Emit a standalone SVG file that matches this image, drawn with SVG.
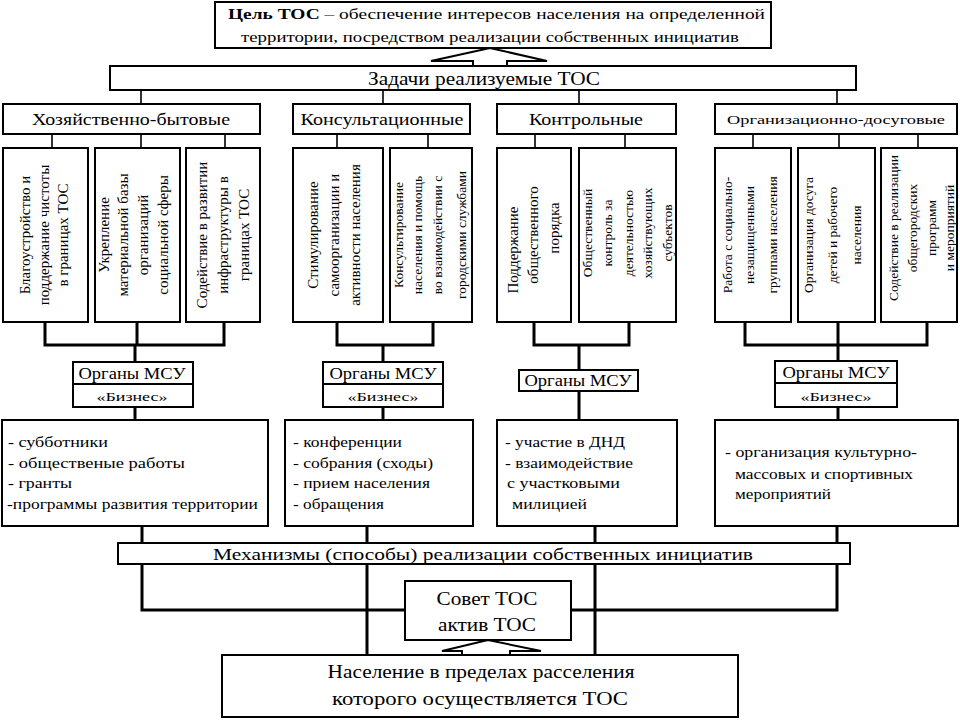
<svg xmlns="http://www.w3.org/2000/svg" width="960" height="720" viewBox="0 0 960 720">
<style>
.b{fill:#fff;stroke:#000;stroke-width:2}
.c{fill:none;stroke:#000;stroke-width:1.6}
.k{fill:none;stroke:#000;stroke-width:3}
text{font-family:"Liberation Serif","Times New Roman",serif;fill:#000}
.m{text-anchor:middle}
.r{font-size:15px;text-anchor:middle}
.rs{font-size:13.5px;text-anchor:middle}
.l{font-size:15px}
.o{font-size:16px;text-anchor:middle}
.z{font-size:13px;text-anchor:middle}
</style>
<rect width="960" height="720" fill="#fff"/>

<g id="connectors">
<polygon class="b" points="473,66 473,61 431,61 490,48 547,61 507,61 507,66"/>
<path class="c" d="M141,90V104M383,90V104M579,90V104M837,90V104"/>
<path class="c" d="M52,134V148M141,134V148M225,134V148M337,134V148M428,134V148M535,134V148M625,134V148M753,134V148M839,134V148M918,134V148"/>
<path class="k" d="M45,322V345H224V322M137,322V345M135,345V362M135,407V420M142,526V543"/>
<path class="k" d="M337,322V345H433V322M383,345V362M383,407V420M367,526V543"/>
<path class="k" d="M534,322V345H629V322M579,345V370M579,391V420M595,526V543"/>
<path class="k" d="M745,322V345H927V322M838,322V361M838,407V420M837,526V543"/>
<path class="k" d="M142,564V610H405M837,564V610H571M367,564V655M595,564V655"/>
<polygon class="b" points="462,655 462,651 442,651 488,640 541,651 510,651 510,655"/>
</g>

<g id="goal">
<rect class="b" x="215" y="2" width="556" height="46"/>
<text x="228" y="19" font-size="15.5" textLength="537" lengthAdjust="spacingAndGlyphs"><tspan font-weight="bold">Цель ТОС</tspan> – обеспечение интересов населения на определенной</text>
<text x="241" y="42" font-size="15.5" textLength="498" lengthAdjust="spacingAndGlyphs">территории, посредством реализации собственных инициатив</text>
</g>

<g id="tasks">
<rect class="b" x="110" y="66" width="746" height="24"/>
<text x="484" y="85" class="m" font-size="18" textLength="232" lengthAdjust="spacingAndGlyphs">Задачи реализуемые ТОС</text>
</g>

<g id="cat1">
<rect class="b" x="3" y="104" width="257" height="30"/>
<text x="131" y="125" class="m" font-size="16" font-family="Liberation Sans, Arial, sans-serif" textLength="198" lengthAdjust="spacingAndGlyphs">Хозяйственно-бытовые</text>
</g>
<g id="cat2">
<rect class="b" x="293" y="104" width="177" height="30"/>
<text x="382" y="125" class="m" font-size="16" textLength="163" lengthAdjust="spacingAndGlyphs">Консультационные</text>
</g>
<g id="cat3">
<rect class="b" x="497" y="104" width="179" height="30"/>
<text x="586" y="125" class="m" font-size="16" textLength="114" lengthAdjust="spacingAndGlyphs">Контрольные</text>
</g>
<g id="cat4">
<rect class="b" x="715" y="104" width="242" height="30"/>
<text x="836" y="124" class="m" font-size="13.5" textLength="218" lengthAdjust="spacingAndGlyphs">Организационно-досуговые</text>
</g>

<g id="s1">
<rect class="b" x="3" y="148" width="85" height="174"/>
<text class="r" transform="translate(30,235) rotate(-90)">Благоустройство и</text>
<text class="r" transform="translate(49,235) rotate(-90)">поддержание чистоты</text>
<text class="r" transform="translate(68,235) rotate(-90)">в границах ТОС</text>
</g>
<g id="s2">
<rect class="b" x="95" y="148" width="85" height="174"/>
<text class="r" transform="translate(109,235) rotate(-90)">Укрепление</text>
<text class="r" transform="translate(128,235) rotate(-90)">материальной базы</text>
<text class="r" transform="translate(148,235) rotate(-90)">организаций</text>
<text class="r" transform="translate(168,235) rotate(-90)">социальной сферы</text>
</g>
<g id="s3">
<rect class="b" x="186" y="148" width="74" height="174"/>
<text class="r" transform="translate(207,235) rotate(-90)">Содействие в развитии</text>
<text class="r" transform="translate(228,235) rotate(-90)">инфраструктуры в</text>
<text class="r" transform="translate(249,235) rotate(-90)">границах ТОС</text>
</g>
<g id="s4">
<rect class="b" x="293" y="148" width="90" height="174"/>
<text class="r" transform="translate(318,235) rotate(-90)">Стимулирование</text>
<text class="r" transform="translate(339,235) rotate(-90)">самоорганизации и</text>
<text class="r" transform="translate(360,235) rotate(-90)">активности населения</text>
</g>
<g id="s5">
<rect class="b" x="390" y="148" width="82" height="174"/>
<text class="rs" transform="translate(403,235) rotate(-90)">Консультирование</text>
<text class="rs" transform="translate(422,235) rotate(-90)">населения и помощь</text>
<text class="rs" transform="translate(442,235) rotate(-90)">во взаимодействии с</text>
<text class="rs" transform="translate(466,235) rotate(-90)">городскими службами</text>
</g>
<g id="s6">
<rect class="b" x="497" y="148" width="74" height="174"/>
<text class="r" transform="translate(518,250) rotate(-90)">Поддержание</text>
<text class="r" transform="translate(538,235) rotate(-90)">общественного</text>
<text class="r" transform="translate(559,228) rotate(-90)">порядка</text>
</g>
<g id="s7">
<rect class="b" x="579" y="148" width="97" height="174"/>
<text class="rs" transform="translate(592,233) rotate(-90)">Общественный</text>
<text class="rs" transform="translate(612,233) rotate(-90)">контроль за</text>
<text class="rs" transform="translate(633,233) rotate(-90)">деятельностью</text>
<text class="rs" transform="translate(652,233) rotate(-90)">хозяйствующих</text>
<text class="rs" transform="translate(672,233) rotate(-90)">субъектов</text>
</g>
<g id="s8">
<rect class="b" x="715" y="148" width="76" height="174"/>
<text class="rs" transform="translate(732,235) rotate(-90)">Работа с социально-</text>
<text class="rs" transform="translate(754,235) rotate(-90)">незащищенными</text>
<text class="rs" transform="translate(777,235) rotate(-90)">группами населения</text>
</g>
<g id="s9">
<rect class="b" x="798" y="148" width="77" height="174"/>
<text class="rs" transform="translate(813,235) rotate(-90)">Организация досуга</text>
<text class="rs" transform="translate(837,235) rotate(-90)">детей и рабочего</text>
<text class="rs" transform="translate(861,235) rotate(-90)">населения</text>
</g>
<g id="s10">
<rect class="b" x="881" y="148" width="76" height="174"/>
<text class="rs" font-size="12.5" transform="translate(898,228) rotate(-90)">Содействие в реализации</text>
<text class="rs" font-size="12.5" transform="translate(917,228) rotate(-90)">общегородских</text>
<text class="rs" font-size="12.5" transform="translate(936,228) rotate(-90)">программ</text>
<text class="rs" font-size="12.5" transform="translate(954,228) rotate(-90)">и мероприятий</text>
</g>

<g id="org1">
<rect class="b" x="73" y="362" width="120" height="45"/>
<line x1="73" y1="384" x2="193" y2="384" stroke="#000" stroke-width="2"/>
<text x="132" y="379" class="o" textLength="107" lengthAdjust="spacingAndGlyphs">Органы МСУ</text>
<text x="132" y="401" class="z" textLength="71" lengthAdjust="spacingAndGlyphs">«Бизнес»</text>
</g>
<g id="org2">
<rect class="b" x="323" y="362" width="120" height="45"/>
<line x1="323" y1="384" x2="443" y2="384" stroke="#000" stroke-width="2"/>
<text x="383" y="379" class="o" textLength="107" lengthAdjust="spacingAndGlyphs">Органы МСУ</text>
<text x="383" y="401" class="z" textLength="71" lengthAdjust="spacingAndGlyphs">«Бизнес»</text>
</g>
<g id="org3">
<rect class="b" x="519" y="370" width="119" height="21"/>
<text x="578" y="386" class="o" textLength="107" lengthAdjust="spacingAndGlyphs">Органы МСУ</text>
</g>
<g id="org4">
<rect class="b" x="775" y="361" width="122" height="46"/>
<line x1="775" y1="383" x2="897" y2="383" stroke="#000" stroke-width="2"/>
<text x="836" y="378" class="o" textLength="107" lengthAdjust="spacingAndGlyphs">Органы МСУ</text>
<text x="836" y="401" class="z" textLength="71" lengthAdjust="spacingAndGlyphs">«Бизнес»</text>
</g>

<g id="list1">
<rect class="b" x="2" y="420" width="266" height="106"/>
<text x="8" y="447" class="l" textLength="100" lengthAdjust="spacingAndGlyphs">- субботники</text>
<text x="8" y="468" class="l" textLength="177" lengthAdjust="spacingAndGlyphs">- общественые работы</text>
<text x="8" y="488" class="l" textLength="64" lengthAdjust="spacingAndGlyphs">- гранты</text>
<text x="7" y="509" class="l" textLength="251" lengthAdjust="spacingAndGlyphs">-программы развития территории</text>
</g>
<g id="list2">
<rect class="b" x="285" y="420" width="188" height="106"/>
<text x="293" y="447" class="l" textLength="109" lengthAdjust="spacingAndGlyphs">- конференции</text>
<text x="293" y="468" class="l" textLength="140" lengthAdjust="spacingAndGlyphs">- собрания (сходы)</text>
<text x="293" y="488" class="l" textLength="137" lengthAdjust="spacingAndGlyphs">- прием населения</text>
<text x="293" y="509" class="l" textLength="91" lengthAdjust="spacingAndGlyphs">- обращения</text>
</g>
<g id="list3">
<rect class="b" x="497" y="420" width="180" height="106"/>
<text x="505" y="447" class="l" textLength="120" lengthAdjust="spacingAndGlyphs">- участие в ДНД</text>
<text x="505" y="468" class="l" textLength="128" lengthAdjust="spacingAndGlyphs">- взаимодействие</text>
<text x="507" y="488" class="l" textLength="113" lengthAdjust="spacingAndGlyphs">с участковыми</text>
<text x="512" y="509" class="l" textLength="75" lengthAdjust="spacingAndGlyphs">милицией</text>
</g>
<g id="list4">
<rect class="b" x="715" y="420" width="243" height="106"/>
<text x="725" y="457" class="l" textLength="192" lengthAdjust="spacingAndGlyphs">- организация культурно-</text>
<text x="735" y="479" class="l" textLength="178" lengthAdjust="spacingAndGlyphs">массовых и спортивных</text>
<text x="735" y="499" class="l" textLength="96" lengthAdjust="spacingAndGlyphs">мероприятий</text>
</g>

<g id="mech">
<rect class="b" x="118" y="543" width="732" height="21"/>
<text x="483" y="560" class="m" font-size="17" textLength="540" lengthAdjust="spacingAndGlyphs">Механизмы (способы) реализации собственных инициатив</text>
</g>

<g id="council">
<rect class="b" x="405" y="581" width="166" height="59"/>
<text x="487" y="605" class="m" font-size="19" textLength="101" lengthAdjust="spacingAndGlyphs">Совет ТОС</text>
<text x="487" y="631" class="m" font-size="19" textLength="98" lengthAdjust="spacingAndGlyphs">актив ТОС</text>
</g>

<g id="population">
<rect class="b" x="222" y="655" width="516" height="62"/>
<text x="481" y="678" class="m" font-size="19" textLength="307" lengthAdjust="spacingAndGlyphs">Население в пределах расселения</text>
<text x="480" y="705" class="m" font-size="19" textLength="296" lengthAdjust="spacingAndGlyphs">которого осуществляется ТОС</text>
</g>
</svg>
